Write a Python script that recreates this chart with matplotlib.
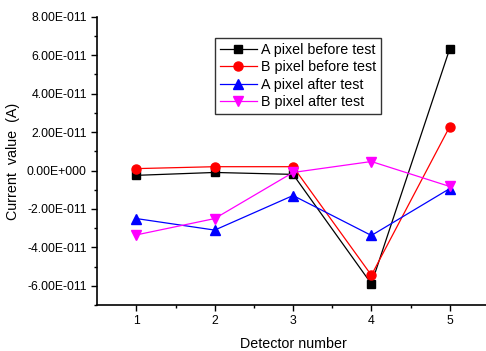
import matplotlib
matplotlib.use("Agg")
import matplotlib.pyplot as plt
import numpy as np
from matplotlib.ticker import FuncFormatter

plt.rcParams['font.family'] = ['Liberation Sans', 'DejaVu Sans']

detectors = [1, 2, 3, 4, 5]
a_before = [-2.5e-12, -1.0e-12, -2.0e-12, -5.9e-11, 6.34e-11]
b_before = [1.0e-12, 2.0e-12, 2.0e-12, -5.45e-11, 2.29e-11]
a_after = [-2.5e-11, -3.1e-11, -1.3e-11, -3.38e-11, -0.94e-11]
b_after = [-3.35e-11, -2.5e-11, -0.1e-11, 0.47e-11, -0.83e-11]


def fmt(v, pos):
    if abs(v) < 1e-20:
        return "0.00E+000"
    s = "%.2E" % v
    m, e = s.split("E")
    sign = e[0]
    return "%sE%s%03d" % (m, sign, abs(int(e)))


fig = plt.figure(figsize=(4.86, 3.51), dpi=100)
ax = fig.add_axes([0.2, 0.131, 0.806, 0.821])

ax.plot(detectors, a_before, color="black", marker="s", markersize=6, lw=0.9, label="A pixel before test")
ax.plot(detectors, b_before, color="red", marker="o", markersize=6.5, lw=0.9, label="B pixel before test")
ax.plot(detectors, a_after, color="blue", marker="^", markersize=7, lw=0.9, label="A pixel after test")
ax.plot(detectors, b_after, color="magenta", marker="v", markersize=7, lw=0.9, label="B pixel after test")

ax.set_xlim(0.5, 5.5)
ax.set_ylim(-7e-11, 8e-11)
ax.set_xticks(detectors)
ax.set_xticks([1.5, 2.5, 3.5, 4.5], minor=True)
ax.set_yticks(np.arange(-6, 9, 2) * 1e-11)
ax.set_yticks(np.arange(-7, 8, 2) * 1e-11, minor=True)
ax.yaxis.set_major_formatter(FuncFormatter(fmt))

for s in ["top", "right"]:
    ax.spines[s].set_visible(False)
for s in ["left", "bottom"]:
    ax.spines[s].set_linewidth(1.2)
ax.tick_params(which="major", direction="out", length=4, width=1, labelsize=8.8)
ax.tick_params(which="minor", direction="out", length=2, width=1)

ax.set_xlabel("Detector number", fontsize=10.3, labelpad=7)
ax.set_ylabel("Current  value  (A)", fontsize=10.3, labelpad=5)

leg = ax.legend(loc="upper left", bbox_to_anchor=(0.302, 0.925), fontsize=10.3, frameon=True,
                fancybox=False, edgecolor="black", handlelength=2.6, handletextpad=0.3,
                borderpad=0.3, labelspacing=0.25, borderaxespad=0)
leg.get_frame().set_linewidth(1.0)

fig.savefig("out.png", dpi=100)
